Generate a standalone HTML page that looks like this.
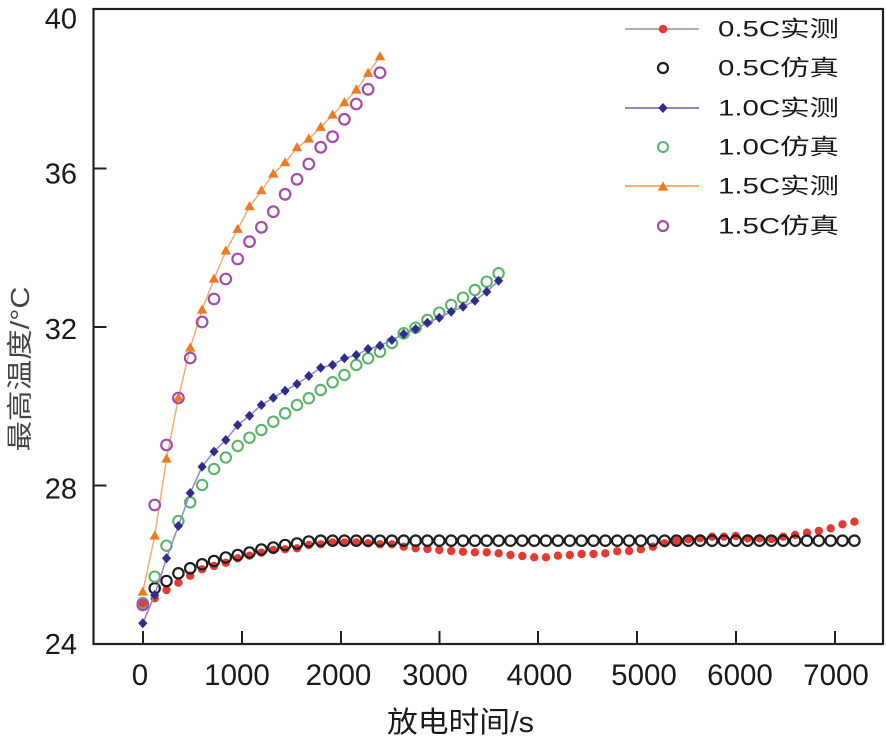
<!DOCTYPE html>
<html><head><meta charset="utf-8"><style>
html,body{margin:0;padding:0;background:#fff;}
svg{display:block;}
text{font-family:"Liberation Sans","Noto Sans CJK SC",sans-serif;fill:#1a1a1a;}
</style></head><body>
<svg width="886" height="736" viewBox="0 0 886 736" xmlns="http://www.w3.org/2000/svg">
<defs>
<path id="dia" d="M0,-5 L4.6,0 L0,5 L-4.6,0Z" fill="#2f2d8c"/>
<path id="tri" d="M0,-5.6 L5.2,3.6 L-5.2,3.6Z" fill="#ee7a22"/>
</defs>
<rect x="0" y="0" width="886" height="736" fill="#fff"/>
<!-- frame -->
<rect x="93.5" y="9" width="789.5" height="635" fill="none" stroke="#231f20" stroke-width="2.2"/>
<!-- ticks -->
<g stroke="#231f20" stroke-width="2">
<line x1="93.5" y1="168.5" x2="106.5" y2="168.5"/>
<line x1="93.5" y1="327" x2="106.5" y2="327"/>
<line x1="93.5" y1="485.5" x2="106.5" y2="485.5"/>
<line x1="143" y1="644" x2="143" y2="631"/>
<line x1="242" y1="644" x2="242" y2="631"/>
<line x1="341" y1="644" x2="341" y2="631"/>
<line x1="439.5" y1="644" x2="439.5" y2="631"/>
<line x1="538" y1="644" x2="538" y2="631"/>
<line x1="637" y1="644" x2="637" y2="631"/>
<line x1="736" y1="644" x2="736" y2="631"/>
<line x1="835" y1="644" x2="835" y2="631"/>
</g>
<!-- y labels -->
<g font-size="29" text-anchor="end">
<text x="77" y="28.3">40</text>
<text x="77" y="183.3">36</text>
<text x="77" y="339">32</text>
<text x="77" y="498.3">28</text>
<text x="77" y="654">24</text>
</g>
<!-- x labels -->
<g font-size="29.5" text-anchor="middle">
<text x="140" y="685">0</text>
<text x="237" y="685">1000</text>
<text x="338.5" y="685">2000</text>
<text x="435" y="685">3000</text>
<text x="539.5" y="685">4000</text>
<text x="644" y="685">5000</text>
<text x="740" y="685">6000</text>
<text x="836" y="685">7000</text>
</g>
<text x="387" y="732" font-size="29" textLength="147" lengthAdjust="spacingAndGlyphs">放电时间/s</text>
<text transform="translate(29,369) rotate(-90)" font-size="26" text-anchor="middle" textLength="165" lengthAdjust="spacingAndGlyphs" style="fill:#444">最高温度/°C</text>

<!-- 0.5C measured -->
<g fill="#e53a33">
<circle cx="142.8" cy="603.3" r="4.2"/><circle cx="154.7" cy="598.3" r="4.2"/><circle cx="166.5" cy="590" r="4.2"/><circle cx="178.4" cy="582.7" r="4.2"/><circle cx="190.2" cy="575.7" r="4.2"/><circle cx="202.1" cy="569.3" r="4.2"/><circle cx="214.0" cy="566" r="4.2"/><circle cx="225.8" cy="562.7" r="4.2"/><circle cx="237.7" cy="558.3" r="4.2"/><circle cx="249.5" cy="555.7" r="4.2"/><circle cx="261.4" cy="552.7" r="4.2"/><circle cx="273.3" cy="550" r="4.2"/><circle cx="285.1" cy="549.3" r="4.2"/><circle cx="297.0" cy="548.3" r="4.2"/><circle cx="308.8" cy="545" r="4.2"/><circle cx="320.7" cy="544.3" r="4.2"/><circle cx="332.6" cy="542.5" r="4.2"/><circle cx="344.4" cy="542.5" r="4.2"/><circle cx="356.3" cy="542.3" r="4.2"/><circle cx="368.1" cy="543.3" r="4.2"/><circle cx="380.0" cy="544.3" r="4.2"/><circle cx="391.9" cy="544.3" r="4.2"/><circle cx="403.7" cy="546.7" r="4.2"/><circle cx="415.6" cy="548.3" r="4.2"/><circle cx="427.4" cy="549" r="4.2"/><circle cx="439.3" cy="550" r="4.2"/><circle cx="451.2" cy="551" r="4.2"/><circle cx="463.0" cy="551.7" r="4.2"/><circle cx="474.9" cy="552.3" r="4.2"/><circle cx="486.7" cy="552.3" r="4.2"/><circle cx="498.6" cy="553.3" r="4.2"/><circle cx="510.5" cy="555" r="4.2"/><circle cx="522.3" cy="556" r="4.2"/><circle cx="534.2" cy="557.3" r="4.2"/><circle cx="546.0" cy="557.3" r="4.2"/><circle cx="557.9" cy="555.7" r="4.2"/><circle cx="569.8" cy="555" r="4.2"/><circle cx="581.6" cy="554" r="4.2"/><circle cx="593.5" cy="554" r="4.2"/><circle cx="605.3" cy="553.3" r="4.2"/><circle cx="617.2" cy="551.3" r="4.2"/><circle cx="629.1" cy="551" r="4.2"/><circle cx="640.9" cy="549.3" r="4.2"/><circle cx="652.8" cy="546.7" r="4.2"/><circle cx="664.6" cy="543.3" r="4.2"/><circle cx="676.5" cy="541" r="4.2"/><circle cx="688.4" cy="539.3" r="4.2"/><circle cx="700.2" cy="538.3" r="4.2"/><circle cx="712.1" cy="536.7" r="4.2"/><circle cx="723.9" cy="536.7" r="4.2"/><circle cx="735.8" cy="536" r="4.2"/><circle cx="747.7" cy="538.3" r="4.2"/><circle cx="759.5" cy="538.3" r="4.2"/><circle cx="771.4" cy="539" r="4.2"/><circle cx="783.2" cy="536.7" r="4.2"/><circle cx="795.1" cy="535" r="4.2"/><circle cx="807.0" cy="532.7" r="4.2"/><circle cx="818.8" cy="531" r="4.2"/><circle cx="830.7" cy="528.3" r="4.2"/><circle cx="842.5" cy="524.3" r="4.2"/><circle cx="854.4" cy="521.7" r="4.2"/>
</g>
<!-- 0.5C sim -->
<g fill="none" stroke="#1e1e1e" stroke-width="2.2">
<circle cx="154.7" cy="588.3" r="5.2"/><circle cx="166.5" cy="581" r="5.2"/><circle cx="178.4" cy="573.3" r="5.2"/><circle cx="190.2" cy="568.3" r="5.2"/><circle cx="202.1" cy="564.3" r="5.2"/><circle cx="214.0" cy="561" r="5.2"/><circle cx="225.8" cy="557.5" r="5.2"/><circle cx="237.7" cy="555" r="5.2"/><circle cx="249.5" cy="552.5" r="5.2"/><circle cx="261.4" cy="549.5" r="5.2"/><circle cx="273.3" cy="547.5" r="5.2"/><circle cx="285.1" cy="545" r="5.2"/><circle cx="297.0" cy="543.5" r="5.2"/><circle cx="308.8" cy="541.5" r="5.2"/><circle cx="320.7" cy="540.7" r="5.2"/><circle cx="332.6" cy="540.7" r="5.2"/><circle cx="344.4" cy="540.7" r="5.2"/><circle cx="356.3" cy="540.7" r="5.2"/><circle cx="368.1" cy="540.7" r="5.2"/><circle cx="380.0" cy="540.7" r="5.2"/><circle cx="391.9" cy="540.7" r="5.2"/><circle cx="403.7" cy="540.7" r="5.2"/><circle cx="415.6" cy="540.7" r="5.2"/><circle cx="427.4" cy="540.7" r="5.2"/><circle cx="439.3" cy="540.7" r="5.2"/><circle cx="451.2" cy="540.7" r="5.2"/><circle cx="463.0" cy="540.7" r="5.2"/><circle cx="474.9" cy="540.7" r="5.2"/><circle cx="486.7" cy="540.7" r="5.2"/><circle cx="498.6" cy="540.7" r="5.2"/><circle cx="510.5" cy="540.7" r="5.2"/><circle cx="522.3" cy="540.7" r="5.2"/><circle cx="534.2" cy="540.7" r="5.2"/><circle cx="546.0" cy="540.7" r="5.2"/><circle cx="557.9" cy="540.7" r="5.2"/><circle cx="569.8" cy="540.7" r="5.2"/><circle cx="581.6" cy="540.7" r="5.2"/><circle cx="593.5" cy="540.7" r="5.2"/><circle cx="605.3" cy="540.7" r="5.2"/><circle cx="617.2" cy="540.7" r="5.2"/><circle cx="629.1" cy="540.7" r="5.2"/><circle cx="640.9" cy="540.7" r="5.2"/><circle cx="652.8" cy="540.7" r="5.2"/><circle cx="664.6" cy="540.7" r="5.2"/><circle cx="676.5" cy="540.7" r="5.2"/><circle cx="688.4" cy="540.7" r="5.2"/><circle cx="700.2" cy="540.7" r="5.2"/><circle cx="712.1" cy="540.7" r="5.2"/><circle cx="723.9" cy="540.7" r="5.2"/><circle cx="735.8" cy="540.7" r="5.2"/><circle cx="747.7" cy="540.7" r="5.2"/><circle cx="759.5" cy="540.7" r="5.2"/><circle cx="771.4" cy="540.7" r="5.2"/><circle cx="783.2" cy="540.7" r="5.2"/><circle cx="795.1" cy="540.7" r="5.2"/><circle cx="807.0" cy="540.7" r="5.2"/><circle cx="818.8" cy="540.7" r="5.2"/><circle cx="830.7" cy="540.7" r="5.2"/><circle cx="842.5" cy="540.7" r="5.2"/><circle cx="854.4" cy="540.7" r="5.2"/>
</g>
<!-- 1.0C sim -->
<g fill="none" stroke="#5cb36a" stroke-width="2.1">
<circle cx="142.8" cy="603" r="5.2"/><circle cx="154.7" cy="576.7" r="5.2"/><circle cx="166.5" cy="545.7" r="5.2"/><circle cx="178.4" cy="521" r="5.2"/><circle cx="190.2" cy="502.3" r="5.2"/><circle cx="202.1" cy="485" r="5.2"/><circle cx="214.0" cy="469" r="5.2"/><circle cx="225.8" cy="457.5" r="5.2"/><circle cx="237.7" cy="446" r="5.2"/><circle cx="249.5" cy="437.7" r="5.2"/><circle cx="261.4" cy="430" r="5.2"/><circle cx="273.3" cy="421.7" r="5.2"/><circle cx="285.1" cy="413.3" r="5.2"/><circle cx="297.0" cy="405" r="5.2"/><circle cx="308.8" cy="398.3" r="5.2"/><circle cx="320.7" cy="390" r="5.2"/><circle cx="332.6" cy="382.3" r="5.2"/><circle cx="344.4" cy="375" r="5.2"/><circle cx="356.3" cy="365" r="5.2"/><circle cx="368.1" cy="358.3" r="5.2"/><circle cx="380.0" cy="351.7" r="5.2"/><circle cx="391.9" cy="343" r="5.2"/><circle cx="403.7" cy="333.3" r="5.2"/><circle cx="415.6" cy="327.7" r="5.2"/><circle cx="427.4" cy="320" r="5.2"/><circle cx="439.3" cy="312.7" r="5.2"/><circle cx="451.2" cy="305" r="5.2"/><circle cx="463.0" cy="297.7" r="5.2"/><circle cx="474.9" cy="290" r="5.2"/><circle cx="486.7" cy="281.7" r="5.2"/><circle cx="498.6" cy="273.3" r="5.2"/>
</g>
<!-- 1.0C measured -->
<polyline fill="none" stroke="#8f88c8" stroke-width="1.5" points="142.8,623.3 154.7,595 166.5,558.3 178.4,526 190.2,493 202.1,466.7 214.0,451.5 225.8,440 237.7,425 249.5,415.7 261.4,405 273.3,397.7 285.1,390.7 297.0,384 308.8,376 320.7,367.7 332.6,365 344.4,358.3 356.3,355 368.1,349 380.0,345.7 391.9,340 403.7,334 415.6,329 427.4,322.7 439.3,317.7 451.2,311.7 463.0,306.7 474.9,300.7 486.7,291.7 498.6,280.7"/>
<g>
<use href="#dia" x="142.8" y="623.3"/><use href="#dia" x="154.7" y="595"/><use href="#dia" x="166.5" y="558.3"/><use href="#dia" x="178.4" y="526"/><use href="#dia" x="190.2" y="493"/><use href="#dia" x="202.1" y="466.7"/><use href="#dia" x="214.0" y="451.5"/><use href="#dia" x="225.8" y="440"/><use href="#dia" x="237.7" y="425"/><use href="#dia" x="249.5" y="415.7"/><use href="#dia" x="261.4" y="405"/><use href="#dia" x="273.3" y="397.7"/><use href="#dia" x="285.1" y="390.7"/><use href="#dia" x="297.0" y="384"/><use href="#dia" x="308.8" y="376"/><use href="#dia" x="320.7" y="367.7"/><use href="#dia" x="332.6" y="365"/><use href="#dia" x="344.4" y="358.3"/><use href="#dia" x="356.3" y="355"/><use href="#dia" x="368.1" y="349"/><use href="#dia" x="380.0" y="345.7"/><use href="#dia" x="391.9" y="340"/><use href="#dia" x="403.7" y="334"/><use href="#dia" x="415.6" y="329"/><use href="#dia" x="427.4" y="322.7"/><use href="#dia" x="439.3" y="317.7"/><use href="#dia" x="451.2" y="311.7"/><use href="#dia" x="463.0" y="306.7"/><use href="#dia" x="474.9" y="300.7"/><use href="#dia" x="486.7" y="291.7"/><use href="#dia" x="498.6" y="280.7"/>
</g>
<!-- 1.5C measured -->
<polyline fill="none" stroke="#f4ac70" stroke-width="1.5" points="142.8,592 154.7,536 166.5,459 178.4,398 190.2,348 202.1,310 214.0,279 225.8,251 237.7,229.3 249.5,206.7 261.4,190.7 273.3,174 285.1,162.7 297.0,147.7 308.8,139 320.7,127.3 332.6,115 344.4,102.7 356.3,90 368.1,73.3 380.0,56.7"/>
<g>
<use href="#tri" x="142.8" y="592"/><use href="#tri" x="154.7" y="536"/><use href="#tri" x="166.5" y="459"/><use href="#tri" x="178.4" y="398"/><use href="#tri" x="190.2" y="348"/><use href="#tri" x="202.1" y="310"/><use href="#tri" x="214.0" y="279"/><use href="#tri" x="225.8" y="251"/><use href="#tri" x="237.7" y="229.3"/><use href="#tri" x="249.5" y="206.7"/><use href="#tri" x="261.4" y="190.7"/><use href="#tri" x="273.3" y="174"/><use href="#tri" x="285.1" y="162.7"/><use href="#tri" x="297.0" y="147.7"/><use href="#tri" x="308.8" y="139"/><use href="#tri" x="320.7" y="127.3"/><use href="#tri" x="332.6" y="115"/><use href="#tri" x="344.4" y="102.7"/><use href="#tri" x="356.3" y="90"/><use href="#tri" x="368.1" y="73.3"/><use href="#tri" x="380.0" y="56.7"/>
</g>
<!-- 1.5C sim -->
<g fill="none" stroke="#a24ea8" stroke-width="2.2">
<circle cx="142.8" cy="605" r="5.3"/><circle cx="154.7" cy="505" r="5.3"/><circle cx="166.5" cy="445" r="5.3"/><circle cx="178.4" cy="398" r="5.3"/><circle cx="190.2" cy="358" r="5.3"/><circle cx="202.1" cy="322" r="5.3"/><circle cx="214.0" cy="299" r="5.3"/><circle cx="225.8" cy="279" r="5.3"/><circle cx="237.7" cy="259" r="5.3"/><circle cx="249.5" cy="241.7" r="5.3"/><circle cx="261.4" cy="227.3" r="5.3"/><circle cx="273.3" cy="211.7" r="5.3"/><circle cx="285.1" cy="194.3" r="5.3"/><circle cx="297.0" cy="179.3" r="5.3"/><circle cx="308.8" cy="164" r="5.3"/><circle cx="320.7" cy="147.3" r="5.3"/><circle cx="332.6" cy="136.7" r="5.3"/><circle cx="344.4" cy="119.3" r="5.3"/><circle cx="356.3" cy="104" r="5.3"/><circle cx="368.1" cy="89.3" r="5.3"/><circle cx="380.0" cy="72.7" r="5.3"/>
</g>

<!-- legend -->
<g stroke-width="2">
<line x1="625" y1="29" x2="699" y2="29" stroke="#b8aaa7"/>
<line x1="625" y1="108" x2="699" y2="108" stroke="#8f88c8"/>
<line x1="625" y1="186" x2="699" y2="186" stroke="#f4b27a"/>
</g>
<circle cx="663" cy="29" r="4.3" fill="#e53a33"/>
<circle cx="663" cy="68" r="5" fill="none" stroke="#1e1e1e" stroke-width="2.2"/>
<use href="#dia" x="663" y="108"/>
<circle cx="663" cy="147" r="5" fill="none" stroke="#5cb36a" stroke-width="2.1"/>
<use href="#tri" x="663" y="187"/>
<circle cx="663" cy="226" r="5" fill="none" stroke="#a24ea8" stroke-width="2.2"/>
<g font-size="22">
<text x="718" y="36.5" textLength="121" lengthAdjust="spacingAndGlyphs">0.5C实测</text>
<text x="718" y="75.5" textLength="121" lengthAdjust="spacingAndGlyphs">0.5C仿真</text>
<text x="718" y="115.5" textLength="121" lengthAdjust="spacingAndGlyphs">1.0C实测</text>
<text x="718" y="154.5" textLength="121" lengthAdjust="spacingAndGlyphs">1.0C仿真</text>
<text x="718" y="193.5" textLength="121" lengthAdjust="spacingAndGlyphs">1.5C实测</text>
<text x="718" y="233.5" textLength="121" lengthAdjust="spacingAndGlyphs">1.5C仿真</text>
</g>
</svg>
</body></html>
